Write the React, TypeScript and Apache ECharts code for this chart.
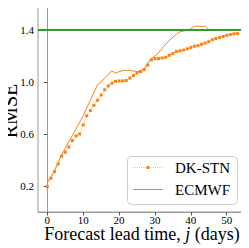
import React, { useEffect, useRef } from "react";
import * as echarts from "echarts";

const days = Array.from({ length: 54 }, (_, i) => i);
const dkstn = [
  0.195, 0.26, 0.31, 0.37, 0.43, 0.46, 0.5, 0.55, 0.585, 0.6,
  0.67, 0.74, 0.78, 0.82, 0.86, 0.9, 0.94, 0.97, 0.99, 1.005,
  1.008, 1.008, 1.012, 1.03, 1.05, 1.07, 1.08, 1.095, 1.13, 1.17,
  1.18, 1.18, 1.185, 1.19, 1.205, 1.22, 1.235, 1.24, 1.245, 1.255,
  1.265, 1.275, 1.28, 1.29, 1.3, 1.31, 1.325, 1.335, 1.342, 1.35,
  1.359, 1.365, 1.37, 1.372,
];
const ecmwf = [
  0.228, 0.27, 0.32, 0.38, 0.44, 0.49, 0.54, 0.59, 0.64, 0.69,
  0.74, 0.8, 0.86, 0.92, 0.98, 1.0, 1.03, 1.06, 1.085, 1.068,
  1.08, 1.088, 1.09, 1.088, 1.085, 1.08, 1.085, 1.1, 1.15, 1.18,
  1.2, 1.225, 1.26, 1.29, 1.32, 1.345, 1.37, 1.387, 1.392, 1.398,
  1.41, 1.428, 1.43, 1.425, 1.43, 1.405,
];
const seriesNames = ["DK-STN", "ECMWF"];
const threshold = 1.4;
const xTicks = [0, 10, 20, 30, 40, 50];
const yTicks = [0.2, 0.6, 1.0, 1.4];
const xTitle = ["Forecast lead time, ", "j", " (days)"];
const yTitle = "RMSE";

const serif = "Liberation Serif";
const orange = "#ff7f0e";
const gray = "#9a9a9a";

export default function App() {
  const ref = useRef<HTMLDivElement>(null);
  useEffect(() => {
    const chart = echarts.init(ref.current!, undefined, { renderer: "svg" });
    const lx = 127, ly = 156, lw = 110, lh = 48;
    const rows = [167.5, 189.5];
    chart.setOption({
      animation: false,
      grid: {
        left: 38, top: 4, right: 4, bottom: 36,
        outerBoundsMode: "none",
        containLabel: false,
        show: true, borderColor: gray, borderWidth: 1,
      },
      graphic: [
        {
          type: "text", z: 50,
          x: 10, y: 111, rotation: Math.PI / 2,
          style: {
            text: yTitle, fontFamily: serif, fontSize: 20, lineHeight: 17, fill: "#000",
            align: "center", verticalAlign: "middle",
          },
        },
        {
          type: "text", z: 50,
          x: 142, y: 234,
          style: {
            text: `{a|${xTitle[0]}}{b|${xTitle[1]}}{a|${xTitle[2]}}`,
            align: "center", verticalAlign: "middle",
            rich: {
              a: { fontFamily: serif, fontSize: 18, lineHeight: 16, fill: "#000" },
              b: { fontFamily: serif, fontSize: 18, lineHeight: 16, fontStyle: "italic", fill: "#000" },
            },
          },
        },
        {
          type: "rect", z: 100,
          shape: { x: lx + 0.5, y: ly + 0.5, width: lw, height: lh, r: 4 },
          style: { fill: "rgba(255,255,255,0.85)", stroke: "#cccccc", lineWidth: 1 },
        },
        {
          type: "line", z: 101,
          shape: { x1: 133, y1: rows[0], x2: 163, y2: rows[0] },
          style: { stroke: orange, lineWidth: 1, lineDash: [1, 1], opacity: 0.55 },
        },
        {
          type: "rect", z: 101,
          shape: { x: 146.5, y: rows[0] - 1.5, width: 3, height: 3 },
          style: { fill: orange },
        },
        {
          type: "line", z: 101,
          shape: { x1: 133, y1: rows[1], x2: 163, y2: rows[1] },
          style: { stroke: orange, lineWidth: 1 },
        },
        ...seriesNames.map((n, i) => ({
          type: "text", z: 101,
          x: 175, y: rows[i],
          style: {
            text: n, fontFamily: serif, fontSize: 15, fill: "#000",
            verticalAlign: "middle", align: "left",
          },
        })),
      ],
      xAxis: {
        type: "value",
        min: -2.6,
        max: 55.1,
        axisLine: { show: true, lineStyle: { color: gray } },
        axisTick: { show: true, length: 3.5, lineStyle: { color: "#555" }, customValues: xTicks },
        axisLabel: {
          fontFamily: serif, fontSize: 11, lineHeight: 11, color: "#000", margin: 2,
          customValues: xTicks,
        },
        splitLine: { show: false },
      },
      yAxis: {
        type: "value",
        min: 0,
        max: 1.6,
        axisLine: { show: true, lineStyle: { color: gray } },
        axisTick: { show: true, length: 3.5, lineStyle: { color: "#555" }, customValues: yTicks },
        axisLabel: {
          fontFamily: serif, fontSize: 11, color: "#000", margin: 4,
          customValues: yTicks,
          formatter: (v: number) => v.toFixed(1),
        },
        splitLine: { show: false },
      },
      series: [
        {
          name: seriesNames[0],
          type: "line",
          data: days.map((d, i) => [d, dkstn[i]]),
          symbol: "rect",
          symbolSize: 3,
          showSymbol: true,
          itemStyle: { color: orange },
          lineStyle: { color: orange, width: 1, type: "dotted", opacity: 0.55 },
          markLine: {
            silent: true,
            symbol: "none",
            label: { show: false },
            lineStyle: { color: "#2ca02c", width: 2, type: "solid" },
            data: [{ yAxis: threshold }],
          },
        },
        {
          name: seriesNames[1],
          type: "line",
          data: ecmwf.map((v, i) => [days[i], v]),
          symbol: "none",
          itemStyle: { color: orange },
          lineStyle: { color: orange, width: 1 },
        },
      ],
    });
    return () => chart.dispose();
  }, []);
  return <div ref={ref} style={{ width: 249, height: 248, marginLeft: -8, marginTop: -8 }} />;
}
